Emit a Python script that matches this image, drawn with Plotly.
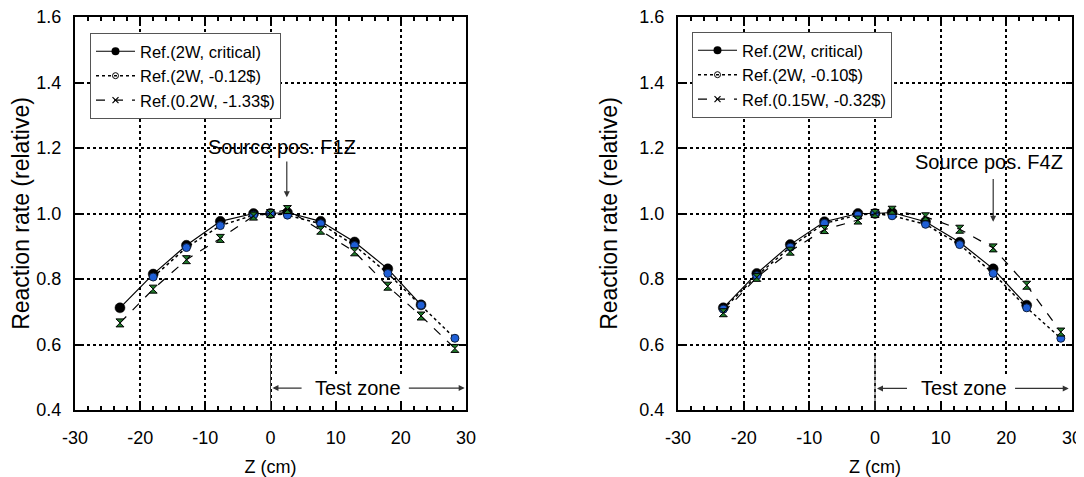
import plotly.graph_objects as go

# ---------------- data ----------------
z = [-23.1, -18.0, -12.9, -7.7, -2.6, 0.0, 2.6, 7.7, 12.9, 18.0, 23.1, 28.3]

# left panel (source F1Z)
l_crit = [0.712, 0.815, 0.903, 0.976, 1.000, 1.000, 1.003, 0.976, 0.913, 0.831, 0.721, None]
l_m012 = [None, 0.806, 0.896, 0.963, 0.995, 1.000, 0.995, 0.969, 0.902, 0.817, 0.720, 0.619]
l_m133 = [0.666, 0.769, 0.859, 0.924, 0.992, 1.000, 1.012, 0.949, 0.883, 0.778, 0.687, 0.588]

# right panel (source F4Z)
r_crit = [0.712, 0.817, 0.905, 0.975, 1.000, 1.000, 1.003, 0.975, 0.912, 0.831, 0.720, None]
r_m010 = [0.708, 0.810, 0.897, 0.970, 0.995, 1.000, 0.993, 0.967, 0.905, 0.817, 0.712, 0.619]
r_m032 = [0.697, 0.805, 0.885, 0.951, 0.980, 1.000, 1.010, 0.990, 0.952, 0.895, 0.781, 0.638]

left_names = ["Ref.(2W, critical)", "Ref.(2W, -0.12$)", "Ref.(0.2W, -1.33$)"]
right_names = ["Ref.(2W, critical)", "Ref.(2W, -0.10$)", "Ref.(0.15W, -0.32$)"]

x_ticks = [-30, -20, -10, 0, 10, 20, 30]
x_ticktext = ["-30", "-20", "-10", "0", "10", "20", "30"]
y_ticks = [0.4, 0.6, 0.8, 1.0, 1.2, 1.4, 1.6]

FONT = "Liberation Sans, Arial, Helvetica, sans-serif"

# page offset (body margin) compensation
OFF = 8
W, H = 1084 - OFF, 477 - OFF


def px(xp):
    return (xp - OFF) / W


def py(yp):
    return 1 - (yp - OFF) / H


fig = go.Figure()

styles = [
    dict(line=dict(color="black", width=1.2, dash="solid"),
         marker=dict(symbol="circle", size=10, color="black", line=dict(color="black", width=0.5))),
    dict(line=dict(color="black", width=1.5, dash="dot"),
         marker=dict(symbol="circle", size=8, color="#1f5fd6", line=dict(color="#0b1d3d", width=1))),
    dict(line=dict(color="black", width=1.2, dash="dash"),
         marker=dict(symbol="hourglass", size=8, color="#1f7a2a", line=dict(color="black", width=1))),
]
legend_markers = [
    dict(symbol="circle", size=8, color="black"),
    dict(symbol="circle-open", size=6, color="black", line=dict(width=1)),
    dict(symbol="x-thin-open", size=6, color="black", line=dict(color="black", width=1.2)),
]

panels = [
    ("x", "y", "legend", [l_crit, l_m012, l_m133], left_names),
    ("x2", "y2", "legend2", [r_crit, r_m010, r_m032], right_names),
]

for xa, ya, lg, series, names in panels:
    for i, ys in enumerate(series):
        fig.add_trace(go.Scatter(x=z, y=ys, mode="lines+markers", xaxis=xa, yaxis=ya,
                                 showlegend=False, connectgaps=False, **styles[i]))
    for i, nm in enumerate(names):
        fig.add_trace(go.Scatter(x=[None], y=[None], mode="lines+markers", xaxis=xa, yaxis=ya,
                                 name=nm, legend=lg, line=styles[i]["line"],
                                 marker=legend_markers[i]))

axis_common = dict(
    showline=True, linecolor="black", linewidth=2, mirror="allticks",
    ticks="inside", ticklen=6, tickwidth=1.5, tickcolor="black",
    showgrid=True, gridcolor="black", griddash="dot", gridwidth=1.5,
    zeroline=False, automargin=False, ticklabeloverflow="allow",
    tickfont=dict(size=18, color="black", family=FONT),
)

xminor = dict(dtick=2, ticks="inside", ticklen=4, tickcolor="black", showgrid=False)

ydom = [py(410), py(17)]
fig.update_layout(
    width=W, height=H,
    margin=dict(l=0, r=0, t=0, b=0, autoexpand=False),
    paper_bgcolor="white", plot_bgcolor="white",
    font=dict(family=FONT, color="black", size=18),
    xaxis=dict(domain=[px(75), px(466)], range=[-30, 30], tickvals=x_ticks, ticktext=x_ticktext,
               minor=xminor, ticklabelstandoff=10,
               title=dict(text="Z (cm)", font=dict(size=18), standoff=14), anchor="y", **axis_common),
    yaxis=dict(domain=ydom, range=[0.4, 1.6], tickvals=y_ticks, tickformat=".1f", ticklabelstandoff=8,
               title=dict(text="Reaction rate (relative)", font=dict(size=23)), anchor="x",
               **axis_common),
    xaxis2=dict(domain=[px(678), px(1072)], range=[-30, 30], tickvals=x_ticks, ticktext=x_ticktext,
                minor=xminor, ticklabelstandoff=10,
                title=dict(text="Z (cm)", font=dict(size=18), standoff=14), anchor="y2", **axis_common),
    yaxis2=dict(domain=ydom, range=[0.4, 1.6], tickvals=y_ticks, tickformat=".1f", ticklabelstandoff=8,
                title=dict(text="Reaction rate (relative)", font=dict(size=23)), anchor="x2",
                **axis_common),
    legend=dict(x=px(90), y=py(33), xanchor="left", yanchor="top",
                bgcolor="white", bordercolor="#555", borderwidth=1,
                font=dict(size=16.5, family=FONT), tracegroupgap=0, itemwidth=39),
    legend2=dict(x=px(692), y=py(32), xanchor="left", yanchor="top",
                 bgcolor="white", bordercolor="#555", borderwidth=1,
                 font=dict(size=16.5, family=FONT), tracegroupgap=0, itemwidth=39),
)

ann = []
arrow_col = "#333333"
AF = dict(size=20)
# left panel
ann.append(dict(xref="x", yref="y", x=1.8, y=1.203, text="Source pos. F1Z", showarrow=False, font=AF))
ann.append(dict(xref="x", yref="y", axref="x", ayref="y", x=2.5, y=1.05, ax=2.5, ay=1.163,
                text="", showarrow=True, arrowhead=2, arrowsize=1, arrowwidth=1.2, arrowcolor=arrow_col))
ann.append(dict(xref="x", yref="y", x=13.5, y=0.467, text="Test zone", showarrow=False, font=AF,
                bgcolor="white"))
ann.append(dict(xref="x", yref="y", axref="x", ayref="y", x=0.3, y=0.467, ax=5.0, ay=0.467,
                text="", showarrow=True, arrowhead=2, arrowsize=1, arrowwidth=1.2, arrowcolor=arrow_col))
ann.append(dict(xref="x", yref="y", axref="x", ayref="y", x=29.8, y=0.467, ax=21.0, ay=0.467,
                text="", showarrow=True, arrowhead=2, arrowsize=1, arrowwidth=1.2, arrowcolor=arrow_col))
# right panel
ann.append(dict(xref="x2", yref="y2", x=17.4, y=1.158, text="Source pos. F4Z", showarrow=False, font=AF))
ann.append(dict(xref="x2", yref="y2", axref="x2", ayref="y2", x=18.0, y=0.975, ax=18.0, ay=1.11,
                text="", showarrow=True, arrowhead=2, arrowsize=1, arrowwidth=1.2, arrowcolor=arrow_col))
ann.append(dict(xref="x2", yref="y2", x=13.5, y=0.466, text="Test zone", showarrow=False, font=AF,
                bgcolor="white"))
ann.append(dict(xref="x2", yref="y2", axref="x2", ayref="y2", x=0.3, y=0.466, ax=5.1, ay=0.466,
                text="", showarrow=True, arrowhead=2, arrowsize=1, arrowwidth=1.2, arrowcolor=arrow_col))
ann.append(dict(xref="x2", yref="y2", axref="x2", ayref="y2", x=29.5, y=0.466, ax=21.1, ay=0.466,
                text="", showarrow=True, arrowhead=2, arrowsize=1, arrowwidth=1.2, arrowcolor=arrow_col))
fig.update_layout(annotations=ann)

shapes = []
for xr, yr in [("x", "y"), ("x2", "y2")]:
    shapes.append(dict(type="line", xref=xr, yref=yr, x0=0, x1=0, y0=0.4, y1=0.567,
                       line=dict(color="#444", width=1)))
fig.update_layout(shapes=shapes)

fig.write_html("out.html")
